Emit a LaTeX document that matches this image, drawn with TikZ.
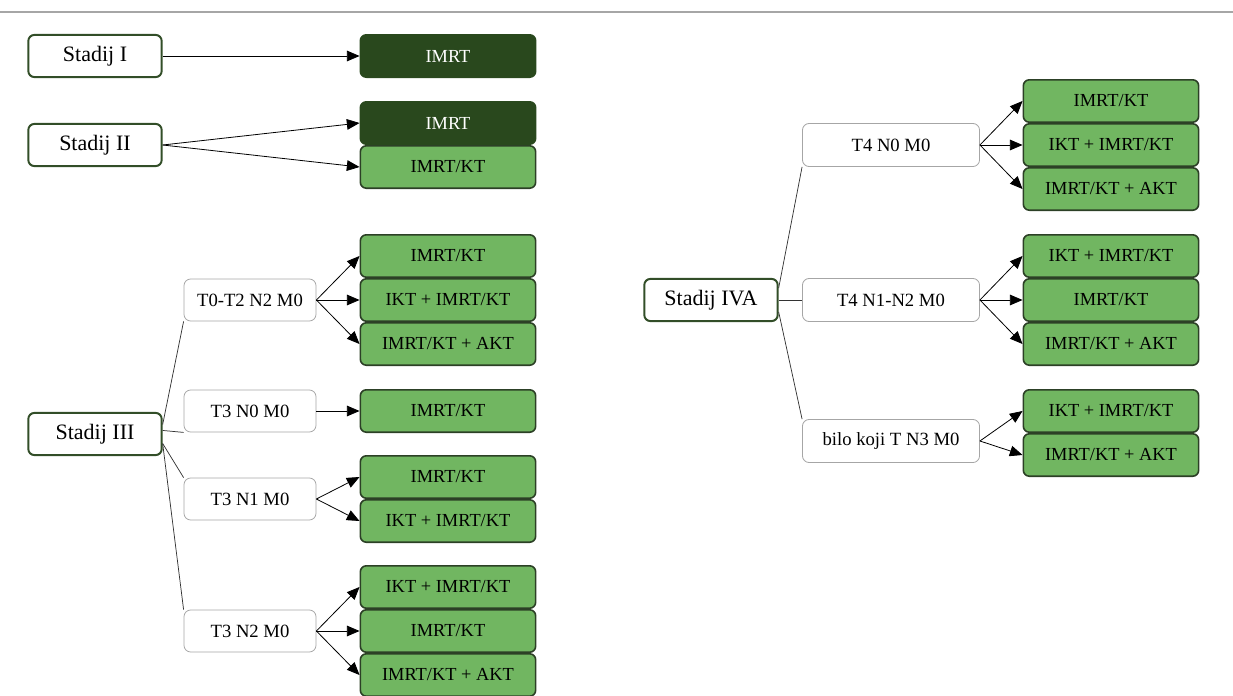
\documentclass[tikz,border=0pt]{standalone}
\usepackage{fontspec}
\setmainfont{Liberation Serif}
\usetikzlibrary{arrows.meta}
\definecolor{stagegreen}{RGB}{50,78,40}
\definecolor{darkfill}{RGB}{41,72,29}
\definecolor{lightfill}{RGB}{113,182,97}
\definecolor{boxline}{RGB}{44,64,38}

\begin{document}
\begin{tikzpicture}[x=0.75pt,y=0.75pt,yscale=-1,xscale=1,
  stage/.style={draw=stagegreen, line width=1.5pt, fill=white, rounded corners=4.5pt, inner sep=0pt, minimum width=100pt, minimum height=31.6pt, font=\fontsize{16.5}{19}\selectfont},
  substage/.style={draw=black!35, line width=0.6pt, fill=white, rounded corners=5pt, inner sep=0pt, minimum width=99pt, minimum height=31.5pt, font=\fontsize{14}{16}\selectfont},
  widesub/.style={substage, minimum width=132.8pt, minimum height=32.3pt},
  therapy/.style={draw=boxline, line width=1.2pt, fill=lightfill, rounded corners=4.5pt, inner sep=0pt, minimum width=131.5pt, minimum height=31.8pt, font=\fontsize{13.8}{16}\selectfont},
  darktherapy/.style={therapy, fill=darkfill, draw=darkfill, text=white},
  arr/.style={line width=0.6pt, -{Triangle[length=9.5pt,width=8pt]}},
  branch/.style={line width=0.55pt, black!80}]
\useasboundingbox (0,0) rectangle (1233,696);

%Top rule
\draw [black!35, line width=0.8pt] (0,12) -- (1233,12);

%Stages
\node [stage] (st1) at (95,56) {Stadij I};
\node [stage] (st2) at (95,145) {Stadij II};
\node [stage] (st3) at (95,434) {Stadij III};
\node [stage] (st4) at (711,300) {Stadij IVA};

%Stadij I and II
\node [darktherapy] (t1) at (448,56) {IMRT};
\node [darktherapy] (t2a) at (448,123) {IMRT};
\node [therapy] (t2b) at (448,167) {IMRT/KT};

%Stadij III, TNM groups
\node [substage] (s31) at (250,300) {T0-T2 N2 M0};
\node [substage] (s32) at (250,411) {T3 N0 M0};
\node [substage] (s33) at (250,499) {T3 N1 M0};
\node [substage] (s34) at (250,631) {T3 N2 M0};

\node [therapy] (b31a) at (448,256) {IMRT/KT};
\node [therapy] (b31b) at (448,300) {IKT + IMRT/KT};
\node [therapy] (b31c) at (448,344) {IMRT/KT + AKT};
\node [therapy] (b32) at (448,411) {IMRT/KT};
\node [therapy] (b33a) at (448,477) {IMRT/KT};
\node [therapy] (b33b) at (448,521) {IKT + IMRT/KT};
\node [therapy] (b34a) at (448,587) {IKT + IMRT/KT};
\node [therapy] (b34b) at (448,631) {IMRT/KT};
\node [therapy] (b34c) at (448,675) {IMRT/KT + AKT};

%Stadij IVA, TNM groups
\node [widesub] (s41) at (891,145) {T4 N0 M0};
\node [widesub] (s42) at (891,300) {T4 N1-N2 M0};
\node [widesub] (s43) at (891,441) {bilo koji T N3 M0};

\node [therapy] (b41a) at (1111,101) {IMRT/KT};
\node [therapy] (b41b) at (1111,145) {IKT + IMRT/KT};
\node [therapy] (b41c) at (1111,189) {IMRT/KT + AKT};
\node [therapy] (b42a) at (1111,256) {IKT + IMRT/KT};
\node [therapy] (b42b) at (1111,300) {IMRT/KT};
\node [therapy] (b42c) at (1111,344) {IMRT/KT + AKT};
\node [therapy] (b43a) at (1111,411) {IKT + IMRT/KT};
\node [therapy] (b43b) at (1111,455) {IMRT/KT + AKT};

%Branches
\draw [branch] (st3.8) -- (s31.south west);
\draw [branch] (st3.3) -- (s32.south west);
\draw [branch] (st3.-8) -- (s33.north west);
\draw [branch] (st3.-8) -- (s34.north west);
\draw [branch] (st4.10) -- (s41.south west);
\draw [branch] (st4.east) -- (s42.west);
\draw [branch] (st4.-10) -- (s43.north west);

%Arrows
\draw [arr] (st1.east) -- (t1.west);
\draw [arr] (st2.east) -- (t2a.west);
\draw [arr] (st2.east) -- (t2b.west);
\draw [arr] (s31.east) -- (b31a.west);
\draw [arr] (s31.east) -- (b31b.west);
\draw [arr] (s31.east) -- (b31c.west);
\draw [arr] (s32.east) -- (b32.west);
\draw [arr] (s33.east) -- (b33a.west);
\draw [arr] (s33.east) -- (b33b.west);
\draw [arr] (s34.east) -- (b34a.west);
\draw [arr] (s34.east) -- (b34b.west);
\draw [arr] (s34.east) -- (b34c.west);
\draw [arr] (s41.east) -- (b41a.west);
\draw [arr] (s41.east) -- (b41b.west);
\draw [arr] (s41.east) -- (b41c.west);
\draw [arr] (s42.east) -- (b42a.west);
\draw [arr] (s42.east) -- (b42b.west);
\draw [arr] (s42.east) -- (b42c.west);
\draw [arr] (s43.east) -- (b43a.west);
\draw [arr] (s43.east) -- (b43b.west);
\end{tikzpicture}
\end{document}
